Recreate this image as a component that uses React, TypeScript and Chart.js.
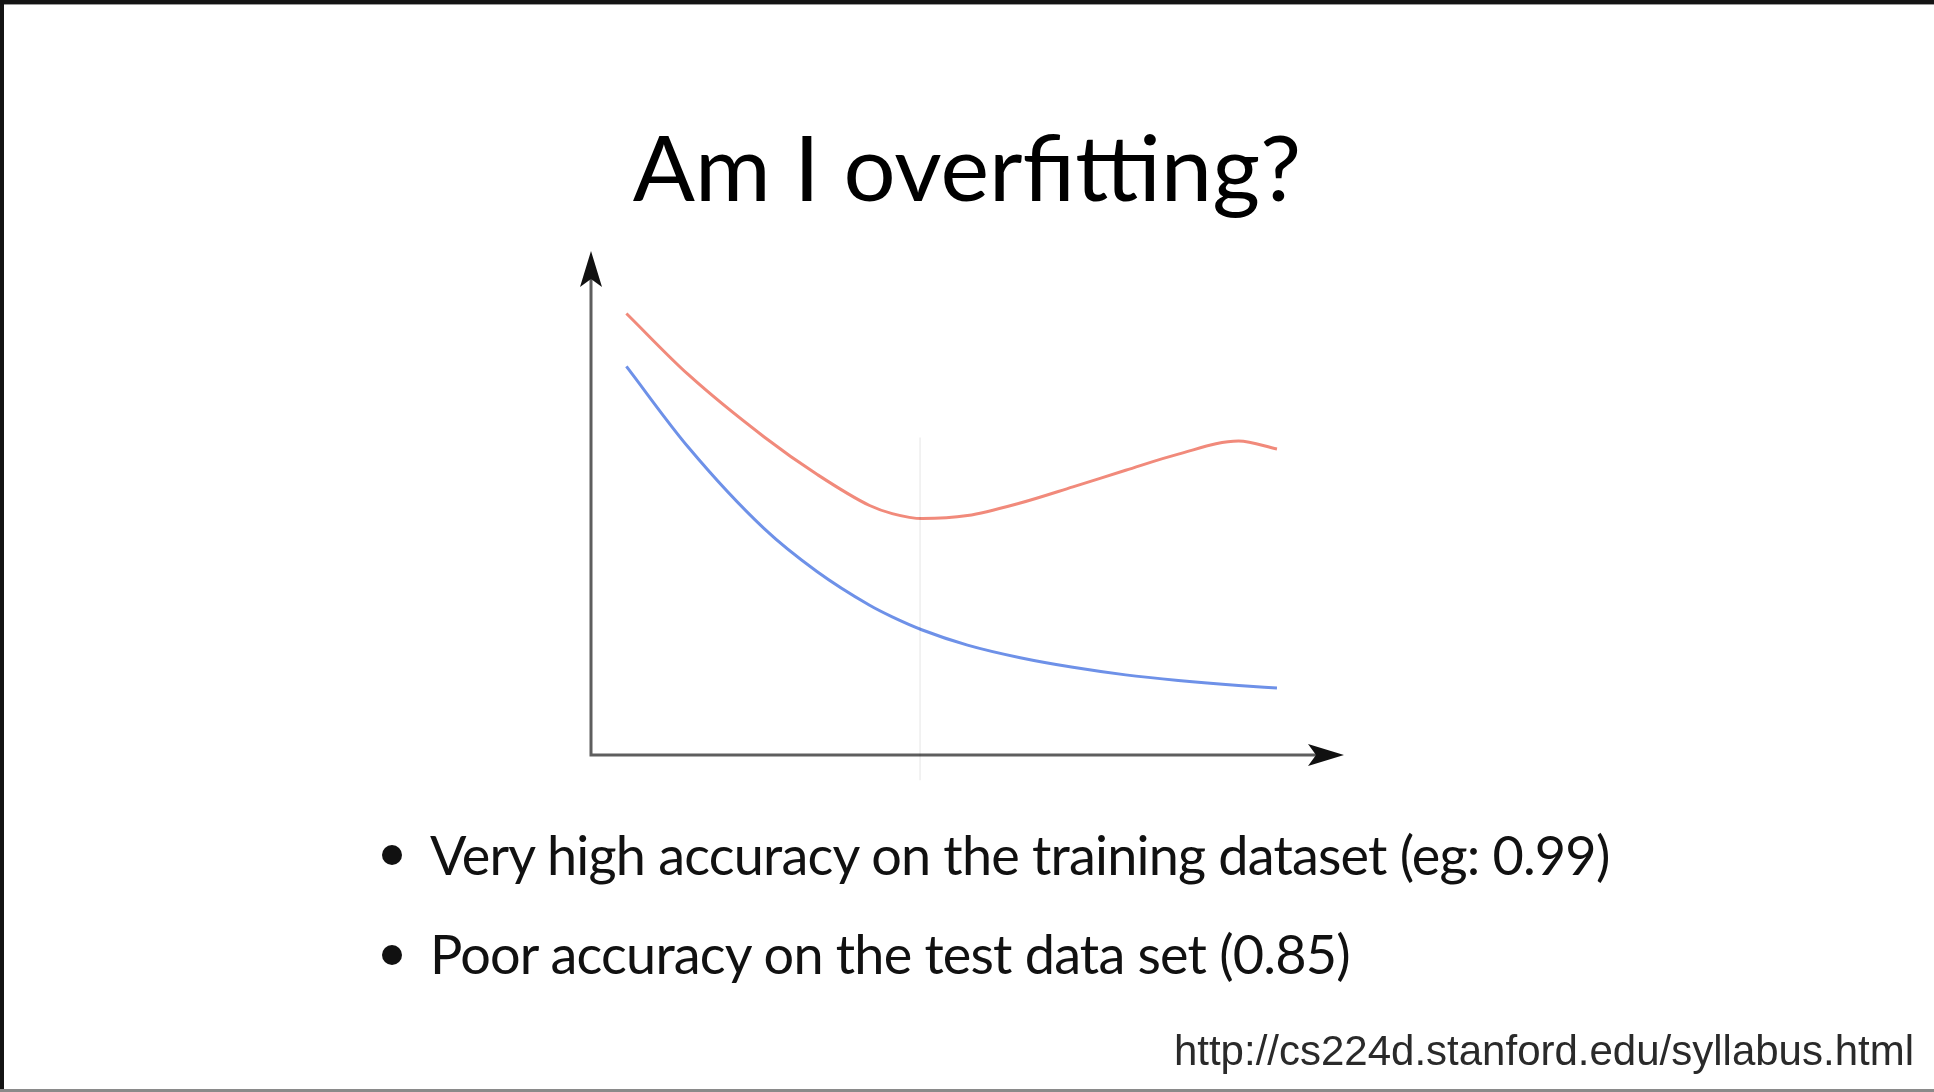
import React, { useEffect, useRef } from "react";
import { Chart, registerables } from "chart.js";

Chart.register(...registerables);

// ---- data ----
const complexity = [4.7, 12.9, 23, 30, 37, 40, 44, 50, 57, 64, 71, 78, 86, 91.1];
const testError = [87.6, 75.5, 63.1, 55.7, 49.5, 47.9, 46.9, 47.5, 50.0, 53.2, 56.5, 59.7, 62.3, 60.7];
const trainError = [77.1, 61.1, 44.9, 36.4, 29.7, 27.4, 24.8, 21.8, 19.3, 17.4, 15.9, 14.8, 13.8, 13.3];
const markerX = [43.7, 43.7];
const markerY = [63, -5];
const axisXRange = [0, 100];
const axisYRange = [0, 100];

const titleText = "Am I overfitting?";
const bulletTexts = [
  "Very high accuracy on the training dataset (eg: 0.99)",
  "Poor accuracy on the test data set (0.85)",
];
const sourceText = "http://cs224d.stanford.edu/syllabus.html";

const W = 1934;
const H = 1092;

const axesPlugin = {
  id: "arrowAxes",
  beforeDatasetsDraw(chart: any) {
    const { ctx, scales } = chart;
    const xs = scales.x;
    const ys = scales.y;
    const x0 = xs.getPixelForValue(axisXRange[0]);
    const x1 = xs.getPixelForValue(axisXRange[1]);
    const y0 = ys.getPixelForValue(axisYRange[0]);
    const y1 = ys.getPixelForValue(axisYRange[1]);
    const len = 36;
    const half = 11;
    const notch = 8;
    ctx.save();
    ctx.lineWidth = 3;
    ctx.strokeStyle = "#5e5e5e";
    ctx.beginPath();
    ctx.moveTo(x0, y1 + len - notch);
    ctx.lineTo(x0, y0);
    ctx.lineTo(x1 - len + notch, y0);
    ctx.stroke();
    ctx.fillStyle = "#111";
    ctx.beginPath();
    ctx.moveTo(x0, y1);
    ctx.lineTo(x0 + half, y1 + len);
    ctx.lineTo(x0, y1 + len - notch);
    ctx.lineTo(x0 - half, y1 + len);
    ctx.closePath();
    ctx.fill();
    ctx.beginPath();
    ctx.moveTo(x1, y0);
    ctx.lineTo(x1 - len, y0 - half);
    ctx.lineTo(x1 - len + notch, y0);
    ctx.lineTo(x1 - len, y0 + half);
    ctx.closePath();
    ctx.fill();
    ctx.restore();
  },
};

export default function App() {
  const canvasRef = useRef<HTMLCanvasElement | null>(null);

  useEffect(() => {
    const canvas = canvasRef.current;
    if (!canvas) return;
    const chart = new Chart(canvas, {
      type: "line",
      data: {
        datasets: [
          {
            label: "marker",
            data: markerX.map((x, i) => ({ x, y: markerY[i] })),
            borderColor: "rgba(0,0,0,0.07)",
            borderWidth: 1.5,
            pointRadius: 0,
          },
          {
            label: "Test error",
            data: complexity.map((x, i) => ({ x, y: testError[i] })),
            borderColor: "rgb(241,138,123)",
            borderWidth: 3,
            pointRadius: 0,
            cubicInterpolationMode: "monotone",
          },
          {
            label: "Training error",
            data: complexity.map((x, i) => ({ x, y: trainError[i] })),
            borderColor: "rgb(110,145,232)",
            borderWidth: 3,
            pointRadius: 0,
            cubicInterpolationMode: "monotone",
          },
        ],
      },
      options: {
        animation: false,
        responsive: false,
        devicePixelRatio: 1,
        layout: { padding: { left: 591, right: 590, top: 251, bottom: 286.6 } },
        plugins: { legend: { display: false }, tooltip: { enabled: false }, title: { display: false } },
        scales: {
          x: { type: "linear", min: 0, max: 100, display: false },
          y: { type: "linear", min: -10, max: 100, display: false },
        },
        events: [],
      } as any,
      plugins: [axesPlugin],
    });
    return () => chart.destroy();
  }, []);

  const bulletTop = [828, 927];
  const dotCenter = [855, 955];

  return (
    <div
      style={{
        position: "fixed",
        left: 0,
        top: 0,
        width: W,
        height: H,
        background: "#fff",
        overflow: "hidden",
      }}
    >
      <canvas ref={canvasRef} width={W} height={H} style={{ position: "absolute", left: 0, top: 0, width: W, height: H }} />
      <div style={{ position: "absolute", left: 0, top: 0, width: W, height: 4, background: "#141414" }} />
      <div style={{ position: "absolute", left: 0, top: 4, width: W, height: 1, background: "#9a9a9a" }} />
      <div style={{ position: "absolute", left: 0, top: 0, width: 4, height: H, background: "#141414" }} />
      <div style={{ position: "absolute", left: 0, top: H - 3, width: W, height: 3, background: "#8a8a8a" }} />

      <div
        style={{
          position: "absolute",
          left: 0,
          width: W,
          top: 120,
          textAlign: "center",
          fontFamily: "Lato, 'Open Sans', sans-serif",
          fontSize: 92,
          lineHeight: "92px",
          color: "#000",
          whiteSpace: "nowrap",
        }}
      >
        {titleText}
      </div>

      {bulletTexts.map((t, i) => (
        <React.Fragment key={i}>
          <div
            style={{
              position: "absolute",
              left: 391.7 - 10,
              top: dotCenter[i] - 10,
              width: 20,
              height: 20,
              borderRadius: "50%",
              background: "#111",
            }}
          />
          <div
            style={{
              position: "absolute",
              left: 430,
              top: bulletTop[i],
              fontFamily: "Lato, 'Open Sans', sans-serif",
              fontSize: 54,
              lineHeight: "54px",
              letterSpacing: "-0.8px",
              color: "#111",
              whiteSpace: "nowrap",
            }}
          >
            {t}
          </div>
        </React.Fragment>
      ))}

      <div
        style={{
          position: "absolute",
          right: 20,
          top: 1030,
          fontFamily: "'Liberation Sans', Arial, sans-serif",
          fontSize: 42,
          lineHeight: "42px",
          color: "#2a2a2a",
          whiteSpace: "nowrap",
        }}
      >
        {sourceText}
      </div>
    </div>
  );
}
